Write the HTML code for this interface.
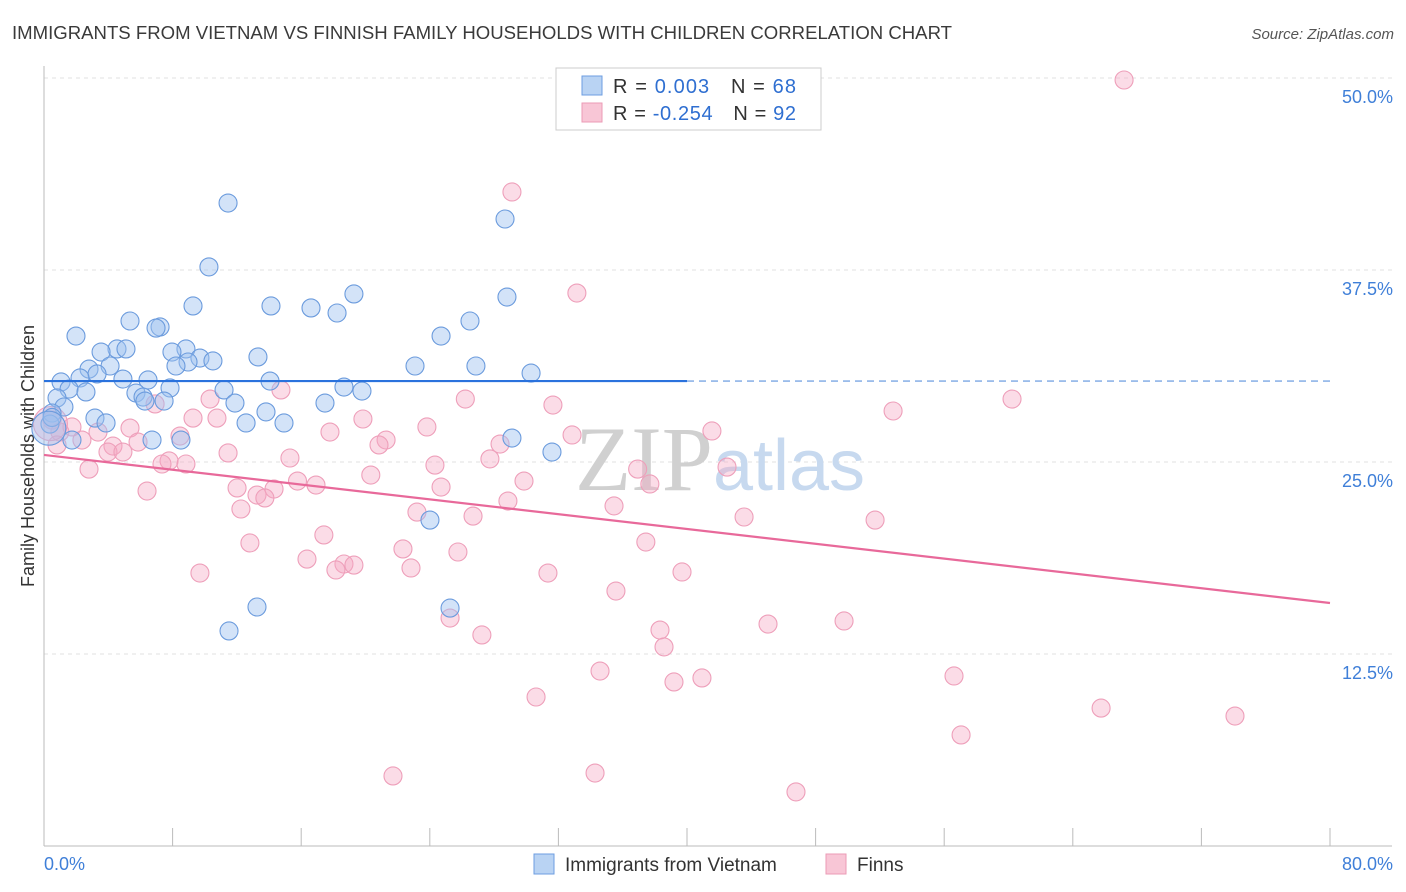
<!DOCTYPE html>
<html><head><meta charset="utf-8"><style>
body{margin:0;background:#fff;font-family:"Liberation Sans",sans-serif;}
svg{display:block}
</style></head><body>
<svg id="c" width="1406" height="892" xmlns="http://www.w3.org/2000/svg">
<text x="12" y="39" font-size="18" fill="#3a3a3a" textLength="940" lengthAdjust="spacingAndGlyphs">IMMIGRANTS FROM VIETNAM VS FINNISH FAMILY HOUSEHOLDS WITH CHILDREN CORRELATION CHART</text>
<text x="1394" y="39" font-size="15" fill="#555" text-anchor="end" font-style="italic">Source: ZipAtlas.com</text>
<g id="grid"></g>
<text x="720" y="490" font-size="92" text-anchor="middle" font-family="Liberation Serif,serif" fill="#d9d9d9"><tspan fill="#d0d0d0">ZIP</tspan><tspan fill="#c7d9ef" font-family="Liberation Sans,sans-serif" font-size="72">atlas</tspan></text>
<g id="axes"></g>
<text transform="translate(34,456) rotate(-90)" font-size="18" fill="#333" text-anchor="middle">Family Households with Children</text>
<g id="pts"></g>
<g id="lines"></g>
<g>
<rect x="556" y="68" width="265" height="62" fill="#fff" stroke="#ccc"/>
<rect x="582" y="76" width="20" height="19" fill="#b9d3f3" stroke="#6d9ee0"/>
<rect x="582" y="103" width="20" height="19" fill="#f8c6d6" stroke="#eb9bb6"/>
<text x="613" y="93" font-size="20" fill="#333" textLength="183" lengthAdjust="spacing">R = <tspan fill="#2f6fd1"> 0.003</tspan>  <tspan dx="14">N = </tspan><tspan fill="#2f6fd1">68</tspan></text>
<text x="613" y="120" font-size="20" fill="#333" textLength="183" lengthAdjust="spacing">R = <tspan fill="#2f6fd1">-0.254</tspan>  <tspan dx="14">N = </tspan><tspan fill="#2f6fd1">92</tspan></text>
</g>
<g>
<rect x="534" y="854" width="20" height="20" fill="#b9d3f3" stroke="#6d9ee0"/>
<text x="565" y="871" font-size="19" fill="#333">Immigrants from Vietnam</text>
<rect x="826" y="854" width="20" height="20" fill="#f8c6d6" stroke="#eb9bb6"/>
<text x="857" y="871" font-size="19" fill="#333">Finns</text>
</g>
</svg>
<script>
const yTicks=[12.5,25,37.5,50];
const yTickLabels=["12.5%","25.0%","37.5%","50.0%"];
const xEndLabels=["0.0%","80.0%"];
const blueX=[11.45,28.68,10.26,9.27,14.12,16.61,18.23,19.28,28.80,5.35,7.22,6.97,1.99,24.70,26.50,4.54,3.55,5.10,8.83,7.96,9.70,10.51,8.96,8.21,13.31,23.08,26.87,30.30,2.80,4.11,3.30,2.24,1.06,4.91,6.47,14.06,1.56,2.61,11.20,18.66,19.78,7.84,5.72,6.16,0.81,6.28,7.47,11.88,17.48,1.24,13.81,3.17,3.86,12.57,14.93,0.50,0.37,6.72,8.52,1.74,29.11,31.60,24.01,13.25,11.51,25.26,0.5,0.3];
const blueY=[41.86,40.82,37.70,35.16,35.16,35.03,34.70,35.94,35.74,34.18,33.79,33.72,33.20,33.20,34.18,32.36,32.16,32.36,32.36,32.16,31.77,31.58,31.51,31.25,31.84,31.25,31.25,30.79,31.05,31.25,30.73,30.47,30.21,30.40,30.34,30.27,29.75,29.56,29.69,29.88,29.62,29.82,29.49,29.23,29.17,28.97,28.97,28.84,28.84,28.58,28.26,27.86,27.54,27.54,27.54,28.19,27.47,26.43,26.43,26.43,26.56,25.65,21.22,15.56,14.00,15.49,27.9,27.2];
const pinkX=[67.19,29.11,33.15,52.82,60.22,14.74,26.21,31.66,10.33,6.91,9.27,10.76,19.84,23.82,17.79,41.55,32.85,0.50,0.99,1.74,3.36,5.35,8.46,21.28,20.84,28.37,0.81,2.36,5.85,4.29,3.98,4.91,11.45,15.30,27.74,7.78,7.34,8.83,24.32,36.93,42.49,2.80,20.33,15.77,16.92,29.86,37.69,6.41,12.01,14.31,24.70,13.25,13.74,28.86,35.46,12.25,23.20,26.69,43.55,51.70,17.41,37.44,12.81,22.33,25.75,16.36,18.66,19.28,18.16,22.83,31.35,39.69,9.70,35.58,25.26,27.24,38.32,38.57,45.04,49.77,34.59,39.19,40.93,56.61,30.61,65.76,74.09,57.05,21.71,34.28,46.78,0.4];
const pinkY=[49.87,42.58,36.00,28.32,29.10,29.69,29.10,28.71,29.10,28.78,27.86,27.86,27.80,27.28,26.95,27.02,26.76,27.73,26.95,27.28,26.95,27.21,26.69,26.43,26.11,26.17,26.11,26.43,26.30,26.04,25.65,25.65,25.59,25.26,25.20,25.07,24.87,24.87,24.80,24.54,24.67,24.54,24.15,23.76,23.50,23.76,23.57,23.11,23.31,23.24,23.37,22.85,22.66,22.46,22.14,21.94,21.74,21.48,21.42,21.22,20.25,19.79,19.73,19.34,19.14,18.68,18.36,18.29,17.97,18.10,17.77,17.84,17.77,16.60,14.84,13.74,14.06,12.96,14.45,14.65,11.39,10.68,10.94,11.07,9.70,8.98,8.46,7.23,4.56,4.75,3.52,27.5];
const blueTrend=[30.27,30.27];
const pinkTrend=[25.46,15.82];
const X0=44,X1=1330,Y0=846,Y50=78;
const sx=v=>X0+(X1-X0)*v/80;
const sy=v=>Y0-(Y0-Y50)*v/50;
const NS="http://www.w3.org/2000/svg";
function mk(t,a,p){const e=document.createElementNS(NS,t);for(const k in a)e.setAttribute(k,a[k]);p.appendChild(e);return e;}
const grid=document.getElementById('grid'),axes=document.getElementById('axes');
yTicks.forEach((t,i)=>{
 const l=mk('line',{x1:X0,x2:1392,y1:sy(t),y2:sy(t),stroke:'#e2e2e2','stroke-dasharray':'4,4'},grid);
 
 
 const tx=mk('text',{x:1393,y:sy(t)+25,'font-size':18,fill:'#3f7fd8','text-anchor':'end'},axes);
 tx.textContent=yTickLabels[i];
 
 
});
mk('line',{x1:X0,x2:X0,y1:66,y2:846,stroke:'#bbb'},axes);
mk('line',{x1:X0,x2:1392,y1:846,y2:846,stroke:'#bbb'},axes);
for(let i=0;i<=10;i++){const x=X0+(X1-X0)*i/10;mk('line',{x1:x,x2:x,y1:828,y2:846,stroke:'#bbb'},axes);}
[[0,'start',44],[80,'end',1393]].forEach((d,i)=>{
 const tx=mk('text',{x:d[2],y:870,'font-size':18,fill:'#3f7fd8','text-anchor':d[1]},axes);
 tx.textContent=xEndLabels[i];
 
 
});
const pts=document.getElementById('pts');
function drawPts(xs,ys,fill,stroke,name){
 xs.forEach((x,i)=>{
  const big=(i===xs.length-1);
  const c=mk('circle',{cx:sx(x),cy:sy(ys[i]),r:big?17:9,fill:fill,stroke:stroke,'stroke-width':1.1},pts);
  
  
 });
}
drawPts(pinkX,pinkY,'rgba(244,168,194,0.4)','#ee9fba','finns-point');
drawPts(blueX,blueY,'rgba(158,194,240,0.45)','#6b9bdd','vietnam-point');
const lines=document.getElementById('lines');
const xMid=40;
const b1=mk('line',{x1:sx(0),y1:sy(blueTrend[0]),x2:sx(xMid),y2:sy(blueTrend[0]+(blueTrend[1]-blueTrend[0])*xMid/80),stroke:'#2a72dd','stroke-width':2.2},lines);


const b2=mk('line',{x1:sx(xMid),y1:sy(blueTrend[0]+(blueTrend[1]-blueTrend[0])*xMid/80),x2:sx(80),y2:sy(blueTrend[1]),stroke:'#7aa6e4','stroke-width':1.4,'stroke-dasharray':'7,5'},lines);


const p1=mk('line',{x1:sx(0),y1:sy(pinkTrend[0]),x2:sx(80),y2:sy(pinkTrend[1]),stroke:'#e8699a','stroke-width':2.2},lines);


</script>
</body></html>
